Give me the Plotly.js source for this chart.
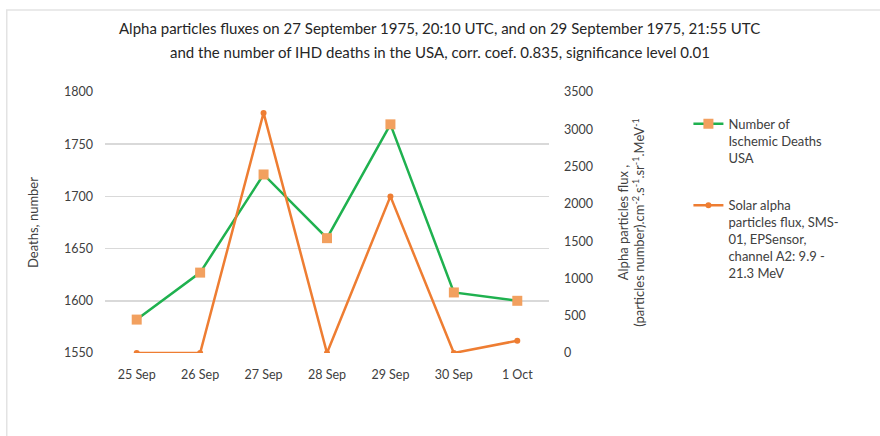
<!DOCTYPE html>
<html><head><meta charset="utf-8">
<script src="https://cdn.plot.ly/plotly-3.0.1.min.js"></script>
<style>body{margin:0;background:#fff}#c{width:880px;height:436px}</style>
</head><body><div id="c"></div>
<script>
const categories = ['25 Sep','26 Sep','27 Sep','28 Sep','29 Sep','30 Sep','1 Oct'];
const deaths = [1582, 1627, 1721, 1660, 1769, 1608, 1600];
const flux = [0, 0, 3220, 0, 2100, 0, 165];
const leftTicks = [1550, 1600, 1650, 1700, 1750, 1800];
const rightTicks = [0, 500, 1000, 1500, 2000, 2500, 3000, 3500];
const titleLines = ['Alpha particles fluxes on 27 September 1975, 20:10 UTC, and on 29 September 1975, 21:55 UTC',
  'and the number of IHD deaths in the USA, corr. coef. 0.835, significance level 0.01'];

const font = 'Lato, "Open Sans", sans-serif';
const traces = [
  {x: categories, y: deaths, type: 'scatter', mode: 'lines+markers', legendgroup: 'a',
   name: 'Number of<br>Ischemic Deaths<br>USA',
   line: {color: '#1FB14F', width: 2.5},
   marker: {symbol: 'square', size: 10, color: '#F2A05F'}},
  {x: categories, y: flux, type: 'scatter', mode: 'lines+markers', yaxis: 'y2', legendgroup: 'b',
   name: 'Solar alpha<br>particles flux, SMS-<br>01, EPSensor,<br>channel A2: 9.9 -<br>21.3 MeV',
   line: {color: '#EE7D32', width: 2.5},
   marker: {symbol: 'circle', size: 6, color: '#EE7D32'}}
];
const layout = {
  width: 880, height: 436,
  margin: {l: 104.5, r: 330.5, t: 92, b: 83},
  paper_bgcolor: '#fff', plot_bgcolor: '#fff',
  font: {family: font, size: 12, color: '#404040'},
  xaxis: {type: 'category', range: [-0.5, 6.5], showgrid: false, zeroline: false, showline: false,
    ticks: '', tickfont: {size: 12.5, color: '#404040'}, ticklabelstandoff: 12},
  yaxis: {range: [1550, 1800], tickvals: leftTicks, showgrid: true, gridcolor: '#d9d9d9', gridwidth: 1.5,
    zeroline: false, showline: false, ticks: '', ticklabelstandoff: 11,
    tickfont: {size: 12.5, color: '#404040'},
    title: {text: 'Deaths, number', font: {size: 13, color: '#404040'}, standoff: 22}},
  yaxis2: {overlaying: 'y', side: 'right', range: [0, 3500], tickvals: rightTicks, showgrid: false,
    zeroline: false, showline: false, ticks: '', ticklabelstandoff: 14,
    tickfont: {size: 12.5, color: '#404040'},
    title: {text: 'Alpha particles flux ,<br>(particles number).cm<sup>-2</sup>.s<sup>-1</sup>.sr<sup>-1</sup>.MeV<sup>-1</sup>',
      font: {size: 13, color: '#404040'}, standoff: 26}},
  legend: {x: 1.314, y: 0.936, xanchor: 'left', yanchor: 'top', itemwidth: 30, tracegroupgap: 28,
    valign: 'top', font: {size: 13, color: '#404040'}, bgcolor: 'rgba(0,0,0,0)'},
  showlegend: true,
  annotations: [
    {text: titleLines[0], xref: 'paper', yref: 'paper', x: 0.754, y: 1.245, showarrow: false,
     xanchor: 'center', yanchor: 'middle', font: {family: font, size: 15, color: '#262626'}},
    {text: titleLines[1], xref: 'paper', yref: 'paper', x: 0.754, y: 1.153, showarrow: false,
     xanchor: 'center', yanchor: 'middle', font: {family: font, size: 15, color: '#262626'}}
  ],
  shapes: [{type: 'rect', xref: 'paper', yref: 'paper', x0: -0.2213, x1: 2, y0: -1, y1: 1.314,
    line: {color: '#e3e3e3', width: 1.5}, fillcolor: 'rgba(0,0,0,0)', layer: 'below'}]
};
Plotly.newPlot('c', traces, layout, {displayModeBar: false, staticPlot: true});
</script></body></html>
